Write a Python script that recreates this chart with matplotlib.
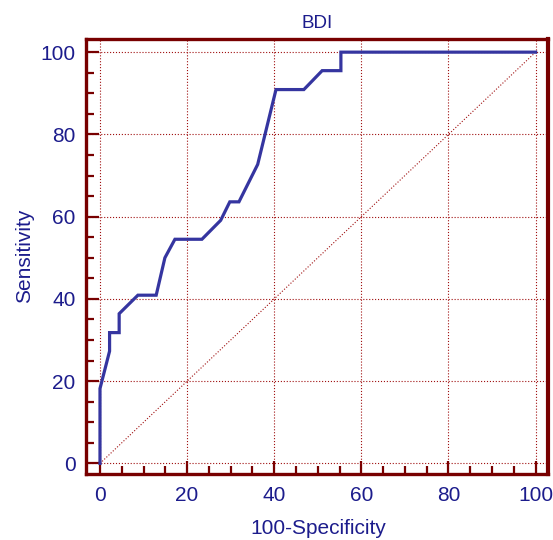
import matplotlib
matplotlib.use('Agg')
from matplotlib import pyplot as plt
from matplotlib.ticker import MultipleLocator

# ROC points
fpr = [0, 0, 2.2, 2.2, 4.4, 4.4, 8.7, 12.9, 14.9, 17.2, 23.4, 27.7, 29.8, 31.9,
       36.2, 40.4, 46.8, 51.0, 55.3, 55.3, 100]
sens = [0, 18.2, 27.3, 31.8, 31.8, 36.4, 40.9, 40.9, 50.0, 54.5, 54.5, 59.1, 63.6, 63.6,
        72.7, 90.9, 90.9, 95.5, 95.5, 100, 100]
ticks = [0, 20, 40, 60, 80, 100]

frame_col = '#780000'
text_col = '#1c1c8c'
curve_col = '#3535a0'
grid_col = '#a01010'

plt.rcParams['font.family'] = ['Liberation Sans', 'DejaVu Sans']

fig = plt.figure(figsize=(5.53, 5.40), dpi=100)
ax = fig.add_axes([0.1564, 0.1213, 0.835, 0.8065])

ax.plot([0, 100], [0, 100], color=grid_col, linestyle=':', linewidth=0.8, zorder=1)
ax.plot(fpr, sens, color=curve_col, linewidth=2.3, solid_joinstyle='miter', zorder=3)

ax.set_xlim(-3.1, 102.9)
ax.set_ylim(-2.7, 103.2)
ax.set_xticks(ticks)
ax.set_yticks(ticks)
ax.xaxis.set_minor_locator(MultipleLocator(5))
ax.yaxis.set_minor_locator(MultipleLocator(5))
ax.grid(True, which='major', color=grid_col, linestyle=':', linewidth=0.8)
ax.set_axisbelow(True)

for s in ax.spines.values():
    s.set_color(frame_col)
    s.set_linewidth(2.4)
ax.spines['right'].set_linewidth(3.0)

ax.tick_params(which='major', direction='in', length=9.5, width=1.6, color=frame_col,
               labelsize=15, labelcolor=text_col, pad=8)
ax.tick_params(which='minor', direction='in', length=5.5, width=1.6, color=frame_col)
ax.tick_params(top=False, right=False, which='both')

ax.set_xlabel('100-Specificity', fontsize=15, color=text_col, va='center')
ax.set_ylabel('Sensitivity', fontsize=15, color=text_col, va='center')
ax.xaxis.set_label_coords(0.502, -0.123)
ax.yaxis.set_label_coords(-0.135, 0.502)
ax.set_title('BDI', fontsize=13.5, color=text_col, pad=8)

fig.savefig('out.png', dpi=100)
